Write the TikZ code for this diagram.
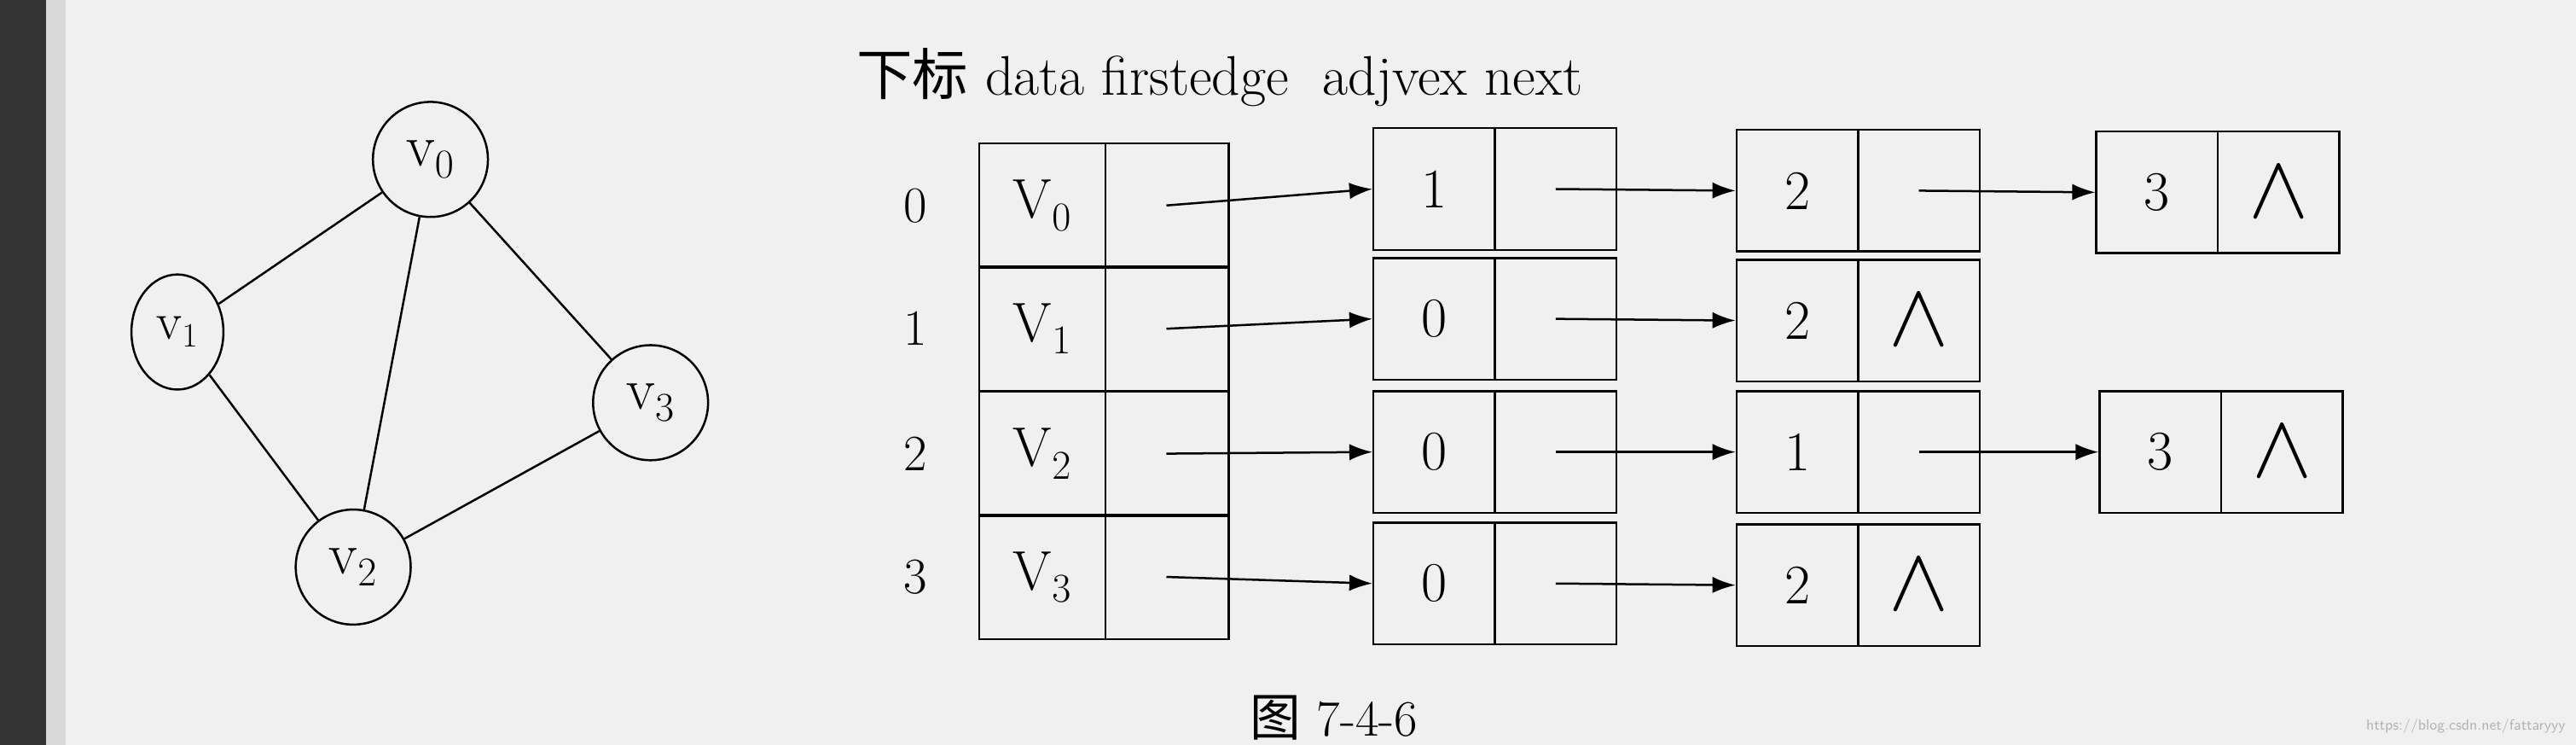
\documentclass[tikz,border=0pt]{standalone}
\usepackage{fontspec}
\newfontfamily\cjk{Noto Sans CJK SC}
\usetikzlibrary{arrows.meta,shapes.geometric}
\begin{document}
\begin{tikzpicture}[x=1pt,y=-1pt,
  vert/.style={draw,circle,line width=1.3pt,minimum size=70pt,inner sep=0pt,font=\fontsize{36}{40}\selectfont},
  cell/.style={draw,line width=1.3pt,minimum width=74pt,minimum height=74pt,inner sep=0pt,font=\fontsize{34}{38}\selectfont},
  lbl/.style={font=\fontsize{31}{34}\selectfont},
  arr/.style={line width=1.3pt,-{Latex[length=14pt,width=10pt]}}]
\newcommand{\nil}{\scalebox{2.2}{$\wedge$}}
\useasboundingbox (0,0) rectangle (1568,453);
\fill[gray!12] (0,0) rectangle (1568,453);
\fill[black!80] (0,0) rectangle (28,453);
\fill[gray!30] (28,0) rectangle (40,453);
% graph
\node[vert] (v0) at (262,97) {v$_0$};
\node[draw,ellipse,line width=1.3pt,minimum width=56pt,minimum height=70pt,inner sep=0pt,font=\fontsize{32}{36}\selectfont] (v1) at (108,202) {v$_1$};
\node[vert] (v2) at (215,345) {v$_2$};
\node[vert] (v3) at (396,245) {v$_3$};
\draw[line width=1.3pt] (v0)--(v1) (v0)--(v2) (v0)--(v3) (v1)--(v2) (v2)--(v3);
% header
\node[lbl,anchor=west,font=\fontsize{34}{38}\selectfont] (hdr) at (518,47) {{\cjk 下标} data firstedge \ adjvex next};
% vertex table
\foreach \i/\y in {0/125,1/200,2/276,3/351}{
  \node[lbl] (idx\i) at (557,\y) {\i};
  \node[cell,minimum width=77pt,minimum height=75.5pt] (d\i) at (634.5,\y) {V$_\i$};
  \node[cell,minimum width=75pt,minimum height=75.5pt] (f\i) at (710.5,\y) {};
  \coordinate (s\i) at (710,\y);
}
% edge nodes
\newcommand{\enode}[5]{% name, x, y, value, second
  \node[cell] (#1a) at (#2,#3) {#4};
  \node[cell] (#1b) at (#2+74,#3) {#5};
}
\enode{a0}{873}{115}{1}{}
\enode{a1}{873}{194}{0}{}
\enode{a2}{873}{275}{0}{}
\enode{a3}{873}{355}{0}{}
\enode{b0}{1094}{116}{2}{}
\enode{b1}{1094}{195}{2}{\nil}
\enode{b2}{1094}{275}{1}{}
\enode{b3}{1094}{356}{2}{\nil}
\enode{c0}{1313}{117}{3}{\nil}
\enode{c2}{1315}{275}{3}{\nil}
\foreach \i in {0,1,2,3}{ \draw[arr] (s\i) -- (a\i a.west); }
\foreach \n/\m in {a0/b0,a1/b1,a2/b2,a3/b3,b0/c0,b2/c2}{
  \draw[arr] (\n b.center) -- (\m a.west);
}
\node[lbl,anchor=south] (cap) at (812,454) {{\cjk 图} 7-4-6};
\node[anchor=south east,text=gray!60,font=\fontsize{9}{10}\selectfont\sffamily] (wm) at (1565,450) {https://blog.csdn.net/fattaryyy};
\end{tikzpicture}
\end{document}
